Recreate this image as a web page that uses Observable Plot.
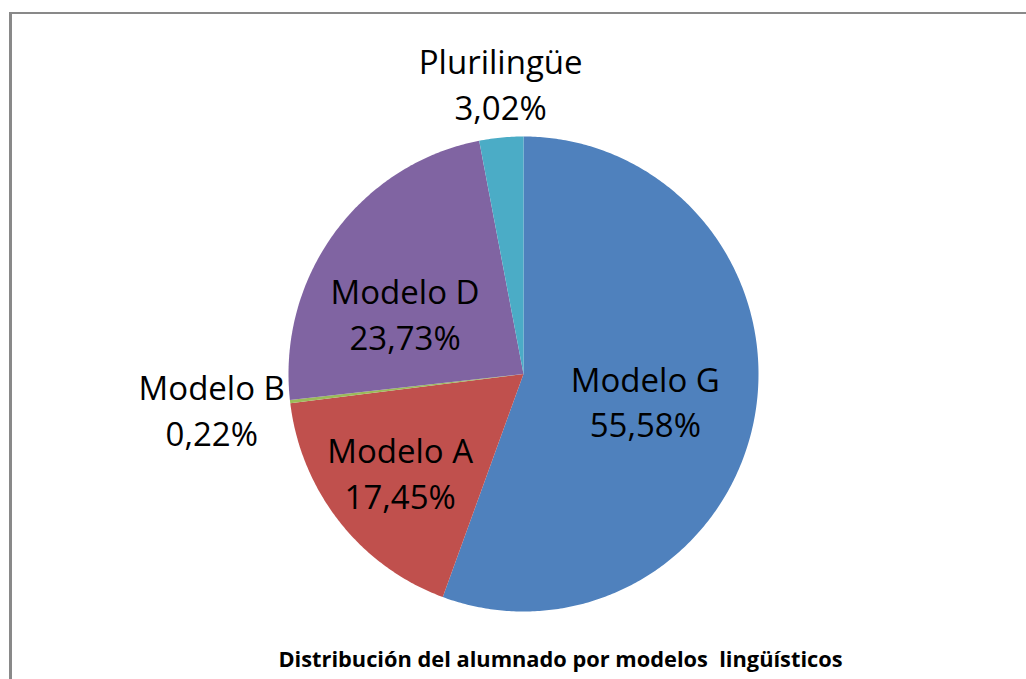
<!DOCTYPE html>
<html>
<head>
<meta charset="utf-8">
<script src="https://cdn.jsdelivr.net/npm/d3@7"></script>
<script src="https://cdn.jsdelivr.net/npm/@observablehq/plot@0.6"></script>
<style>
  html, body { margin: 0; padding: 0; background: #fff; }
  #wrap { position: relative; width: 1026px; height: 679px; overflow: hidden; }
  #border { position: absolute; left: 9px; top: 12px; width: 1100px; height: 800px;
            border-left: 3px solid #898989; border-top: 2px solid #898989; box-sizing: border-box; }
  svg text { white-space: pre; }
</style>
</head>
<body>
<div id="wrap"><div id="border"></div></div>
<script>
// ---- data ----
const categories = ["Modelo G", "Modelo A", "Modelo B", "Modelo D", "Plurilingüe"];
const values = [55.58, 17.45, 0.22, 23.73, 3.02];
const colors = ["#4F81BD", "#C0504D", "#9BBB59", "#8064A2", "#4BACC6"];
const title = "Distribución del alumnado por modelos  lingüísticos";

// ---- slices (Excel style: start at 12 o'clock, clockwise) ----
const arcs = d3.pie().sort(null).value(d => d.v)(categories.map((c, i) => ({c, v: values[i]})));
const poly = [];
for (const a of arcs) {
  const n = Math.max(2, Math.ceil((a.endAngle - a.startAngle) / 0.01));
  poly.push({c: a.data.c, x: 0, y: 0});
  for (let k = 0; k <= n; k++) {
    const t = a.startAngle + (a.endAngle - a.startAngle) * k / n;
    poly.push({c: a.data.c, x: Math.sin(t), y: Math.cos(t)});
  }
}

// label placement layout (inside / outside factor + nudges)
const layout = {
  "Modelo G":    {f: 0.6,  dx: -17, dy: 1},
  "Modelo A":    {f: 0.6,  dx: -13, dy: 9},
  "Modelo B":    {f: 1.25, dx: -20, dy: 0},
  "Modelo D":    {f: 0.6,  dx: -5,  dy: 23},
  "Plurilingüe": {f: 1.25, dx: 5,   dy: 4}
};
const fmt = v => v.toFixed(2).replace(".", ",") + "%";
const labelMarks = arcs.map(a => {
  const L = layout[a.data.c];
  const m = (a.startAngle + a.endAngle) / 2;
  return Plot.text([{x: Math.sin(m) * L.f, y: Math.cos(m) * L.f, t: a.data.c + "\n" + fmt(a.data.v)}], {
    x: "x", y: "y", text: "t", dx: L.dx, dy: L.dy,
    fontSize: 33, lineHeight: 1.39, fill: "#000", textAnchor: "middle", lineAnchor: "middle"
  });
});

const chart = Plot.plot({
  width: 1026, height: 679,
  marginLeft: 288, marginRight: 268, marginTop: 136, marginBottom: 68,
  x: {domain: [-1, 1], axis: null},
  y: {domain: [-1, 1], axis: null},
  color: {domain: categories, range: colors},
  style: {fontFamily: "'Open Sans', sans-serif", background: "transparent", overflow: "visible"},
  marks: [
    Plot.line(poly, {x: "x", y: "y", z: "c", fill: "c", stroke: null, curve: "linear-closed"}),
    ...labelMarks,
    Plot.text([title], {text: d => d, frameAnchor: "bottom", dx: 37, dy: 55,
      fontSize: 21.8, fontWeight: "bold", fill: "#000", textAnchor: "middle"})
  ]
});
chart.style.position = "absolute";
chart.style.left = "0px";
chart.style.top = "0px";
document.getElementById("wrap").appendChild(chart);
</script>
</body>
</html>
